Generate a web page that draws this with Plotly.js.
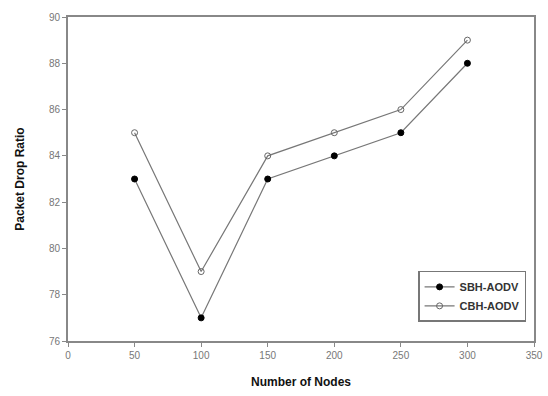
<!DOCTYPE html>
<html><head><meta charset="utf-8">
<script src="https://cdn.plot.ly/plotly-3.0.1.min.js"></script>
<style>html,body{margin:0;padding:0;background:#fff;}#c{width:548px;height:396px;}</style>
</head><body><div id="c"></div>
<script>
const nodes = [50, 100, 150, 200, 250, 300];
const sbh = [83, 77, 83, 84, 85, 88];
const cbh = [85, 79, 84, 85, 86, 89];
const seriesNames = ["SBH-AODV", "CBH-AODV"];
const xTicks = [0, 50, 100, 150, 200, 250, 300, 350];
const yTicks = [76, 78, 80, 82, 84, 86, 88, 90];

const lineStyle = {color: '#777', width: 1.2};
const traces = [
  {x: nodes, y: sbh, name: '<b>' + seriesNames[0] + '</b>', mode: 'lines+markers', line: lineStyle,
   marker: {symbol: 'circle', size: 6, color: '#000', line: {color: '#000', width: 1}}},
  {x: nodes, y: cbh, name: '<b>' + seriesNames[1] + '</b>', mode: 'lines+markers', line: lineStyle,
   marker: {symbol: 'circle-open', size: 6, color: '#666', line: {color: '#666', width: 1}}}
];
const axisCommon = {
  showgrid: false, zeroline: false, showline: true, mirror: true,
  linecolor: '#888', linewidth: 2, ticks: 'outside', ticklen: 4, tickcolor: '#888',
  tickfont: {family: 'Arial, Liberation Sans', size: 10, color: '#777'}
};
const layout = {
  width: 548, height: 396,
  margin: {l: 68, r: 14, t: 17, b: 55},
  paper_bgcolor: '#fff', plot_bgcolor: '#fff',
  showlegend: true,
  legend: {x: 0.983, y: 0.059, xanchor: 'right', yanchor: 'bottom',
    bordercolor: '#777', borderwidth: 1.5, bgcolor: '#fff',
    font: {family: 'Arial, Liberation Sans', size: 11, color: '#333'},
    itemwidth: 30, tracegroupgap: 0},
  xaxis: Object.assign({}, axisCommon, {range: [0, 350], tickvals: xTicks,
    title: {text: '<b>Number of Nodes</b>', font: {family: 'Arial, Liberation Sans', size: 12, color: '#111'}, standoff: 18}}),
  yaxis: Object.assign({}, axisCommon, {range: [76, 90], tickvals: yTicks,
    title: {text: '<b>Packet Drop Ratio</b>', font: {family: 'Arial, Liberation Sans', size: 12, color: '#111'}, standoff: 22}})
};
Plotly.newPlot('c', traces, layout, {displayModeBar: false, staticPlot: true});
</script></body></html>
